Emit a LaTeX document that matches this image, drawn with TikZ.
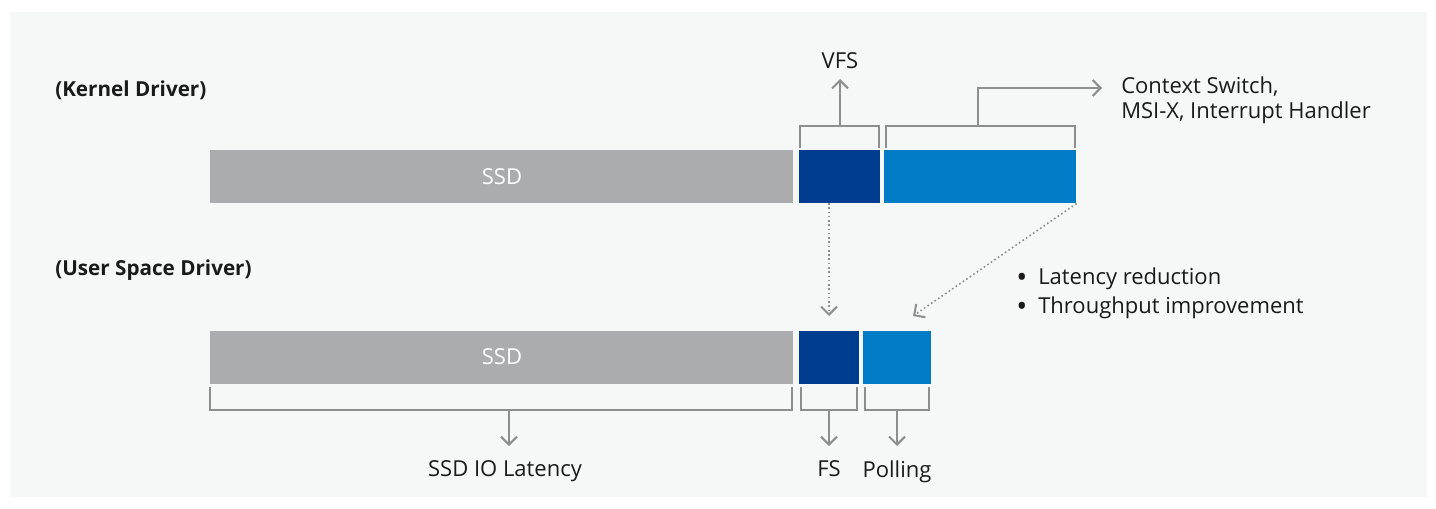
\documentclass[tikz,border=0pt]{standalone}
\usepackage{fontspec}
\setmainfont{Open Sans}
\usetikzlibrary{arrows.meta}
\definecolor{bgc}{HTML}{F6F7F7}
\definecolor{ssdgray}{HTML}{ABACAE}
\definecolor{dblue}{HTML}{003D91}
\definecolor{lblue}{HTML}{007CC7}
\definecolor{linec}{HTML}{8E8E8E}
\definecolor{txtc}{HTML}{1A1A1A}
\tikzset{
  bar/.style={draw=none, inner sep=0pt, anchor=north west},
  brk/.style={draw=linec, line width=1.5pt},
  arr/.style={draw=linec, line width=1.5pt, -{Straight Barb[length=6pt,width=12pt,line width=1.5pt]}},
  dotarr/.style={draw=linec, line width=1.2pt, dotted, -{Straight Barb[length=6pt,width=12pt,line width=1.5pt]}},
  lbl/.style={text=txtc, font=\fontsize{16.5}{20}\selectfont, inner sep=0pt},
  ssdlbl/.style={text=white, font=\fontsize{16.5}{20}\selectfont, inner sep=0pt},
  bul/.style={text=txtc, font=\fontsize{22}{24}\selectfont, inner sep=0pt, anchor=base},
  head/.style={text=txtc, font=\fontsize{15.5}{18}\selectfont\bfseries, inner sep=0pt, anchor=west},
}
\begin{document}
\begin{tikzpicture}[x=0.75pt, y=-0.75pt]
\useasboundingbox[fill=white] (0,0) rectangle (1436,508);
\fill[bgc] (10,12) rectangle (1427,497);

% headings
\node[head] (hk) at (55,90) {(Kernel Driver)};
\node[head] (hu) at (55,270) {(User Space Driver)};

% kernel row
\node[bar, fill=ssdgray, minimum width=583*0.75pt, minimum height=53*0.75pt] (kssd) at (210,150) {};
\node[ssdlbl] (kssdt) at (502,177) {SSD};
\node[bar, fill=dblue, minimum width=81*0.75pt, minimum height=53*0.75pt] (kfs) at (799,150) {};
\node[bar, fill=lblue, minimum width=192*0.75pt, minimum height=53*0.75pt] (kctx) at (884,150) {};

% user row
\node[bar, fill=ssdgray, minimum width=583*0.75pt, minimum height=53*0.75pt] (ussd) at (210,331) {};
\node[ssdlbl] (ussdt) at (502,357) {SSD};
\node[bar, fill=dblue, minimum width=60*0.75pt, minimum height=53*0.75pt] (ufs) at (799,331) {};
\node[bar, fill=lblue, minimum width=68*0.75pt, minimum height=53*0.75pt] (upoll) at (863,331) {};

% top brackets
\draw[brk] (800,148) -- (800,126) -- (879,126) -- (879,148);
\coordinate (vfsb) at (840,126);
\node[lbl, anchor=base] (vfs) at (840,68) {VFS};
\draw[arr] (vfsb) -- (840,79);

\draw[brk] (886,148) -- (886,126) -- (1075,126) -- (1075,148);
\coordinate (ctxb) at (978,126);
\coordinate (ctxc) at (978,88);
\coordinate (ctxe) at (1102,88);
\draw[arr] (ctxb) -- (ctxc) -- (ctxe);
\node[lbl, anchor=base west] (ctx1) at (1121,93) {Context Switch,};
\node[lbl, anchor=base west] (ctx2) at (1121,118) {MSI-X, Interrupt Handler};

% dotted arrows
\coordinate (kfsd) at (829,203);
\draw[dotarr] (kfsd) -- (829,316);
\draw[dotarr] (kctx.south east) -- (913,316);

% bullets
\node[bul] (b1) at (1022,287) {\textbullet};
\node[lbl, anchor=base west] (bt1) at (1038,284) {Latency reduction};
\node[bul] (b2) at (1022,316) {\textbullet};
\node[lbl, anchor=base west] (bt2) at (1038,313) {Throughput improvement};

% bottom brackets
\draw[brk] (210,387) -- (210,410) -- (792,410) -- (792,387);
\draw[arr] (509,410) -- (509,446);
\node[lbl, anchor=base] (lat) at (505,476) {SSD IO Latency};

\draw[brk] (801,387) -- (801,410) -- (857,410) -- (857,387);
\draw[arr] (829,410) -- (829,446);
\node[lbl, anchor=base] (fs) at (829,476) {FS};

\draw[brk] (865,387) -- (865,410) -- (929,410) -- (929,387);
\draw[arr] (897,410) -- (897,446);
\node[lbl, anchor=base] (poll) at (897,477) {Polling};
\end{tikzpicture}
\end{document}
